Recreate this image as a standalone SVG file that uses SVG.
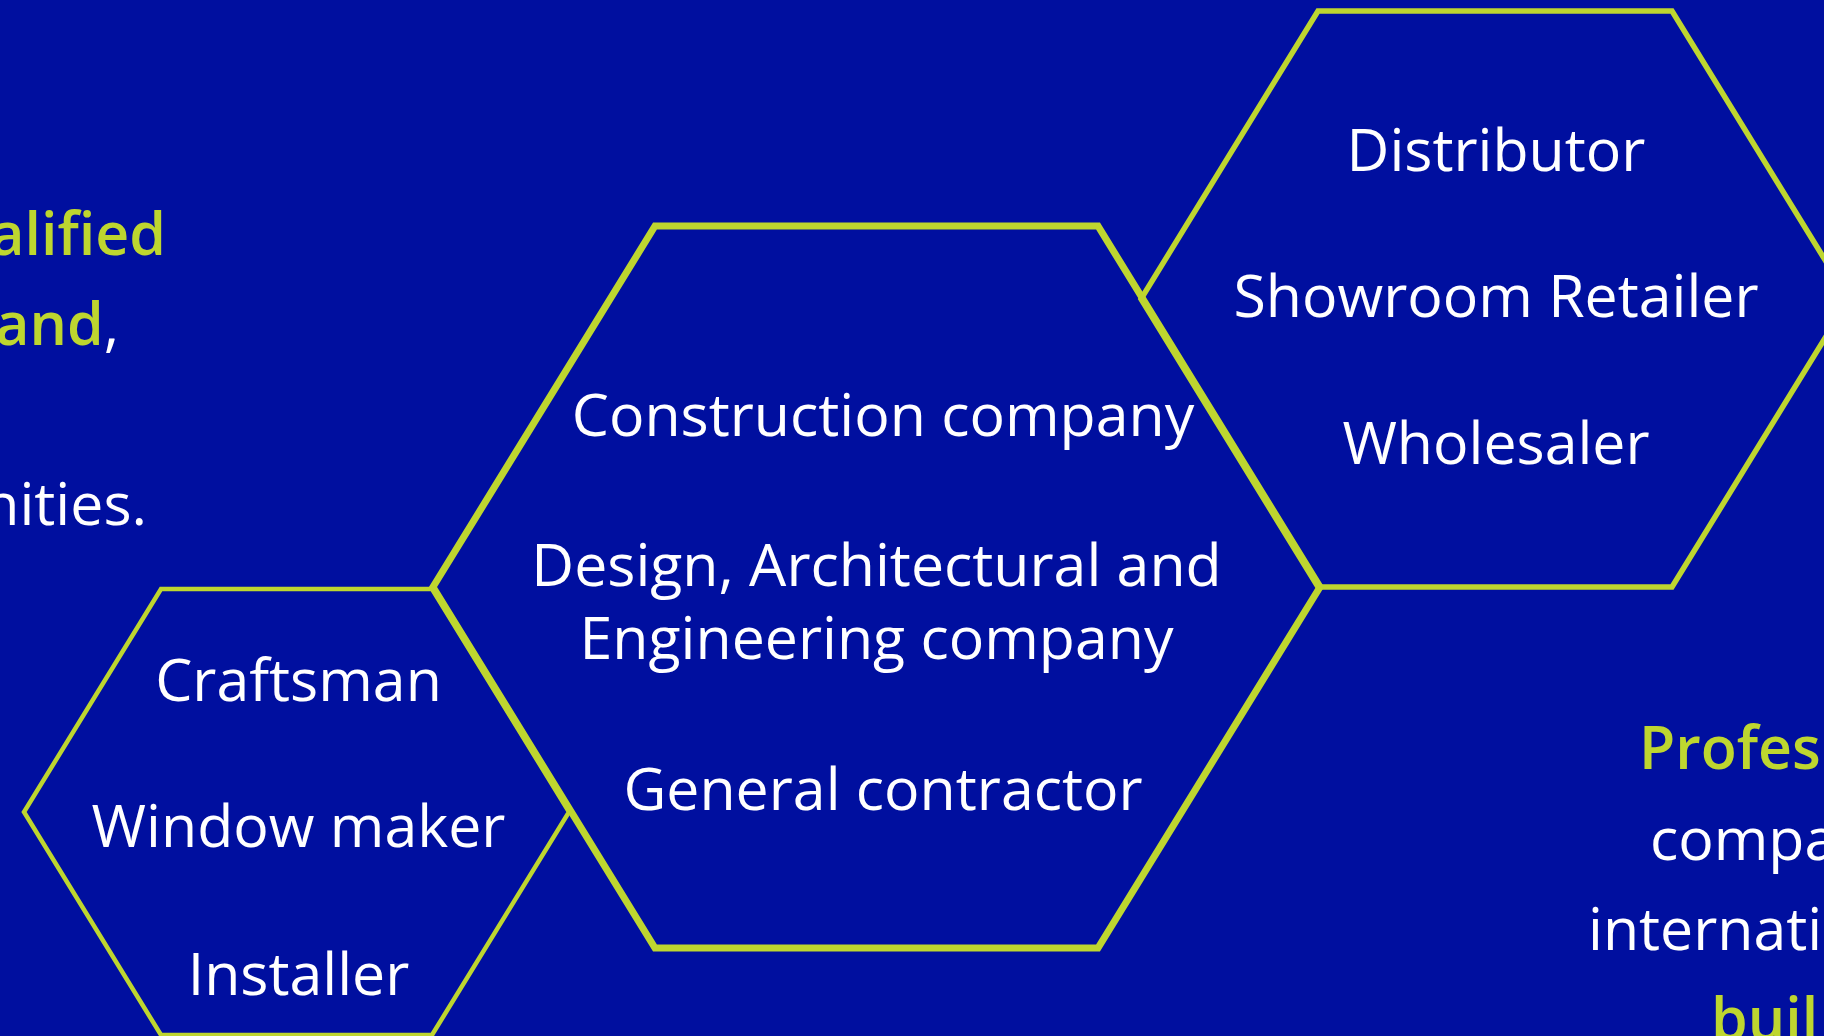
<svg xmlns="http://www.w3.org/2000/svg" width="1824" height="1036" viewBox="0 0 1824 1036">
<style>
.hex{fill:none;stroke:#BED62F;stroke-linejoin:miter}
.lbl{font-family:"Open Sans","Noto Sans",sans-serif;font-size:59px;fill:#FFFFFF;text-anchor:middle}
.side{font-family:"Open Sans","Noto Sans",sans-serif;font-size:59px;fill:#FFFFFF}
.hl{font-weight:600;fill:#BED62F}
</style>
<rect width="1824" height="1036" fill="#000F9F"/>
<g id="side-left">
<text class="side hl" x="166" y="255" text-anchor="end">alified</text>
<text class="side" x="119" y="345" text-anchor="end"><tspan class="hl">and</tspan>,</text>
<text class="side" x="147" y="525" text-anchor="end">nities.</text>
</g>
<g id="side-right">
<text class="side hl" x="1639" y="769">Profes</text>
<text class="side" x="1650" y="860">compa</text>
<text class="side" x="1588" y="950">internati</text>
<text class="side hl" x="1711" y="1040">buil</text>
</g>
<g id="hex-distribution">
<polygon class="hex" stroke-width="5.5" points="1318,11 1672,11 1849,299 1672,587 1318,587 1141,299"/>
<text class="lbl" x="1496" y="171">Distributor</text>
<text class="lbl" x="1496" y="317">Showroom Retailer</text>
<text class="lbl" x="1496" y="464">Wholesaler</text>
</g>
<g id="hex-trades">
<polygon class="hex" stroke-width="4.5" points="161,589 432,589 569,812 432,1035 161,1035 24,812"/>
<text class="lbl" x="298.5" y="701">Craftsman</text>
<text class="lbl" x="298.5" y="847">Window maker</text>
<text class="lbl" x="298.5" y="995">Installer</text>
</g>
<g id="hex-construction">
<polygon class="hex" stroke-width="7" points="655,226 1098,226 1320,587 1098,948 655,948 433,587"/>
<text class="lbl" x="883" y="436">Construction company</text>
<text class="lbl" x="876.5" y="586">Design, Architectural and</text>
<text class="lbl" x="876.5" y="659">Engineering company</text>
<text class="lbl" x="883" y="810">General contractor</text>
</g>
<g id="connectors"></g>
</svg>
